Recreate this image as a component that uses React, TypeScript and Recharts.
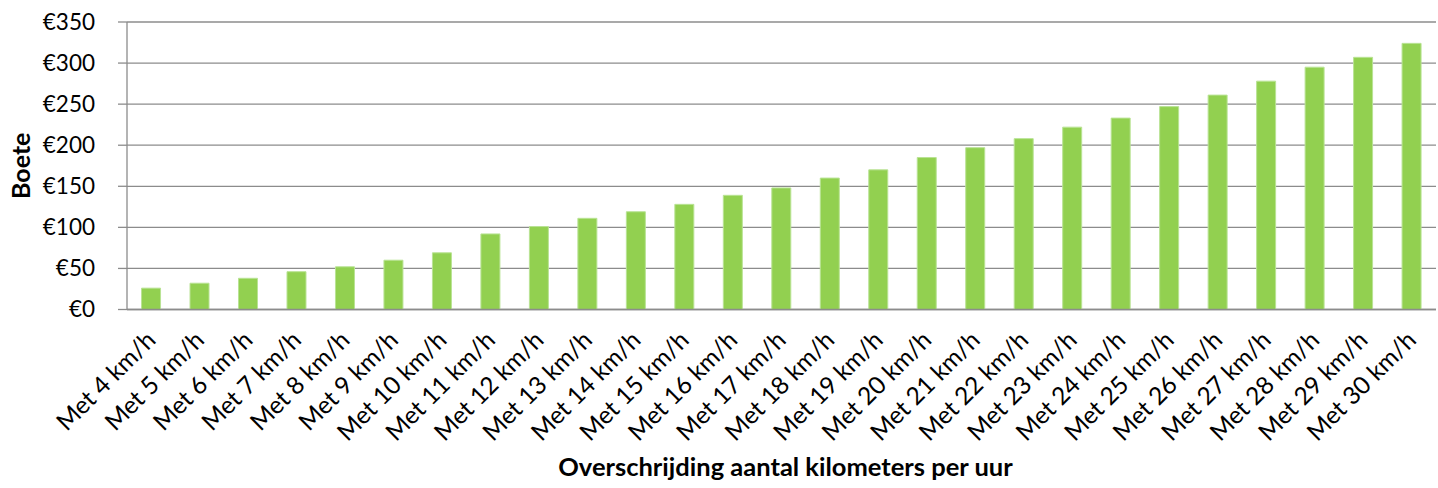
import React from 'react';
import { BarChart, Bar, XAxis, YAxis, CartesianGrid } from 'recharts';

const categories = [
  'Met 4 km/h', 'Met 5 km/h', 'Met 6 km/h', 'Met 7 km/h', 'Met 8 km/h', 'Met 9 km/h',
  'Met 10 km/h', 'Met 11 km/h', 'Met 12 km/h', 'Met 13 km/h', 'Met 14 km/h', 'Met 15 km/h',
  'Met 16 km/h', 'Met 17 km/h', 'Met 18 km/h', 'Met 19 km/h', 'Met 20 km/h', 'Met 21 km/h',
  'Met 22 km/h', 'Met 23 km/h', 'Met 24 km/h', 'Met 25 km/h', 'Met 26 km/h', 'Met 27 km/h',
  'Met 28 km/h', 'Met 29 km/h', 'Met 30 km/h',
];

const boete = [
  26, 32, 38, 46, 52, 60, 69, 92, 101, 111, 119, 128, 139, 148, 160, 170, 185, 197,
  208, 222, 233, 247, 261, 278, 295, 307, 324,
];

const yTicks = [0, 50, 100, 150, 200, 250, 300, 350];

const data = categories.map((c, i) => ({ name: c, value: boete[i] }));

const FONT = 'Lato, "Open Sans", sans-serif';

const XTick = (props: any) => {
  const { x, y, payload } = props;
  return (
    <g transform={`translate(${x + 6},${y})`}>
      <text
        x={0}
        y={0}
        textAnchor="end"
        transform="rotate(-45)"
        fontFamily={FONT}
        fontSize={24.5}
        fill="#000"
      >
        {payload.value}
      </text>
    </g>
  );
};

const YTitle = (props: any) => {
  const vb = props.viewBox || {};
  const cx = (vb.x || 0) + 20;
  const cy = (vb.y || 0) + (vb.height || 0) / 2;
  return (
    <text
      x={cx}
      y={cy}
      textAnchor="middle"
      dominantBaseline="central"
      transform={`rotate(-90, ${cx}, ${cy})`}
      fontFamily={FONT}
      fontWeight="bold"
      fontSize={25}
      fill="#000"
    >
      Boete
    </text>
  );
};

const XTitle = (props: any) => {
  const vb = props.viewBox || {};
  const cx = (vb.x || 0) + (vb.width || 0) / 2 + 4;
  const by = (vb.y || 0) + (vb.height || 0) - 12;
  return (
    <text
      x={cx}
      y={by}
      textAnchor="middle"
      fontFamily={FONT}
      fontWeight="bold"
      fontSize={25.5}
      fill="#000"
    >
      Overschrijding aantal kilometers per uur
    </text>
  );
};

export default function App() {
  return (
    <div style={{ position: 'absolute', left: 0, top: 0, width: 1438, height: 488, background: '#fff' }}>
      <BarChart
        width={1438}
        height={488}
        data={data}
        margin={{ top: 22, right: 2, bottom: 0, left: 0 }}
        barCategoryGap="30%"
      >
        <CartesianGrid vertical={false} stroke="#8c8c8c" strokeWidth={1.3} />
        <XAxis
          dataKey="name"
          interval={0}
          height={178.5}
          tickLine={false}
          axisLine={{ stroke: '#8c8c8c', strokeWidth: 1.3 }}
          tick={<XTick />}
          tickMargin={26}
          label={<XTitle />}
        />
        <YAxis
          width={127}
          domain={[0, 350]}
          ticks={yTicks}
          interval={0}
          tickSize={9}
          tickMargin={23}
          tickLine={{ stroke: '#8c8c8c', strokeWidth: 1.3 }}
          axisLine={{ stroke: '#8c8c8c', strokeWidth: 1.3 }}
          tickFormatter={(v: number) => `€${v}`}
          tick={{ fontFamily: FONT, fontSize: 22.5, fill: '#000' }}
          label={<YTitle />}
        />
        <Bar dataKey="value" fill="#92D050" stroke="#B9E394" strokeWidth={1} isAnimationActive={false} />
      </BarChart>
    </div>
  );
}
